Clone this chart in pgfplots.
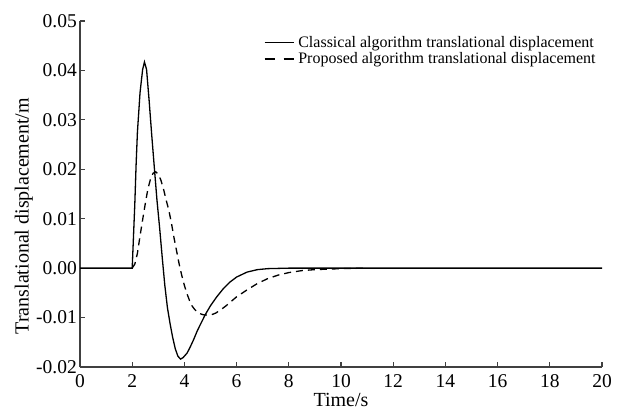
\documentclass[border=0pt]{standalone}
\usepackage{fontspec}
\setmainfont{Liberation Serif}
\usepackage{pgfplots}
\pgfplotsset{compat=1.18}
\begin{document}
\begin{tikzpicture}
\begin{axis}[
  name=ax,
  scale only axis,
  width=522pt, height=346pt,
  xmin=0, xmax=20, ymin=-0.02, ymax=0.05,
  axis lines*=left,
  axis line style={line width=1.3pt, color=black!75},
  xtick={0,2,...,20},
  ytick={-0.02,-0.01,0,0.01,0.02,0.03,0.04,0.05},
  tick align=inside,
  major tick length=5pt,
  tick style={line width=1.2pt, color=black!75},
  /pgf/number format/assume math mode=true,
  yticklabel style={/pgf/number format/fixed, /pgf/number format/fixed zerofill, /pgf/number format/precision=2, inner sep=0pt, xshift=-3pt},
  scaled y ticks=false,
  ticklabel style={font=\fontsize{19.5}{21}\selectfont},
  xticklabel style={inner sep=0pt, yshift=-7pt},
  xlabel={Time/s},
  ylabel={Translational displacement/m},
  label style={font=\fontsize{20}{22}\selectfont},
  xlabel style={at={(axis description cs:0.5,0)}, anchor=north, inner sep=0pt, yshift=-26pt},
  ylabel style={at={(axis description cs:-0.09,0.436)}, anchor=south, inner sep=0pt},
  legend style={draw=none, fill=none, at={(0.990,0.960)}, anchor=north east,
    font=\fontsize{16}{18}\selectfont, row sep=2pt, inner sep=0pt, nodes={inner sep=1pt}},
  legend cell align=left,
  legend image code/.code={\draw[#1] (0pt,0pt) -- (29pt,0pt); \path (32pt,0pt);},
  clip=false,
]
\addplot[line width=1.3pt, black] coordinates {
(0,0) (2,0) (2.05,0.0065) (2.1,0.013) (2.15,0.021) (2.2,0.0275) (2.3,0.0355) (2.4,0.0402) (2.47,0.0417) (2.55,0.0402) (2.65,0.0338) (2.75,0.0268) (2.85,0.0202) (2.95,0.0137) (3.05,0.0082) (3.15,0.0022) (3.25,-0.0035) (3.35,-0.0080) (3.45,-0.0112) (3.55,-0.0140) (3.65,-0.0163) (3.75,-0.0178) (3.85,-0.0184) (3.95,-0.0181) (4.1,-0.0172) (4.2,-0.0162) (4.35,-0.0145) (4.5,-0.0126) (4.65,-0.0110) (4.8,-0.0094) (5.0,-0.0076) (5.24,-0.0058) (5.5,-0.0041) (5.75,-0.0028) (6.0,-0.0018) (6.4,-0.0008) (6.8,-0.0003) (7.2,-0.0001) (8,0) (20,0)
};
\addlegendentry{Classical algorithm translational displacement}
\addplot[line width=1.3pt, black, dash pattern=on 7pt off 5pt, legend image post style={dash pattern=on 10pt off 9pt}] coordinates {
(2,0) (2.1,0.0008) (2.2,0.003) (2.3,0.0065) (2.4,0.0098) (2.5,0.0130) (2.6,0.0160) (2.7,0.0180) (2.8,0.0192) (2.9,0.0195) (3.0,0.0190) (3.1,0.0178) (3.2,0.0160) (3.3,0.0138) (3.4,0.0118) (3.5,0.0092) (3.6,0.0062) (3.7,0.0035) (3.8,0.0008) (3.9,-0.0015) (4.0,-0.0035) (4.1,-0.0052) (4.2,-0.0066) (4.3,-0.0077) (4.4,-0.0084) (4.5,-0.0089) (4.6,-0.0092) (4.7,-0.0094) (4.8,-0.0095) (5.0,-0.0095) (5.2,-0.0091) (5.4,-0.0084) (5.6,-0.0076) (5.8,-0.0067) (6.0,-0.0058) (6.4,-0.0044) (6.8,-0.0031) (7.2,-0.0021) (7.6,-0.0014) (8.0,-0.0009) (8.5,-0.0005) (9,-0.0003) (10,-0.0001) (11,0)
};
\addlegendentry{Proposed algorithm translational displacement}
\end{axis}
\path ([shift={(-80pt,-44pt)}]ax.south west) rectangle ([shift={(20pt,21pt)}]ax.north east);
\end{tikzpicture}
\end{document}
